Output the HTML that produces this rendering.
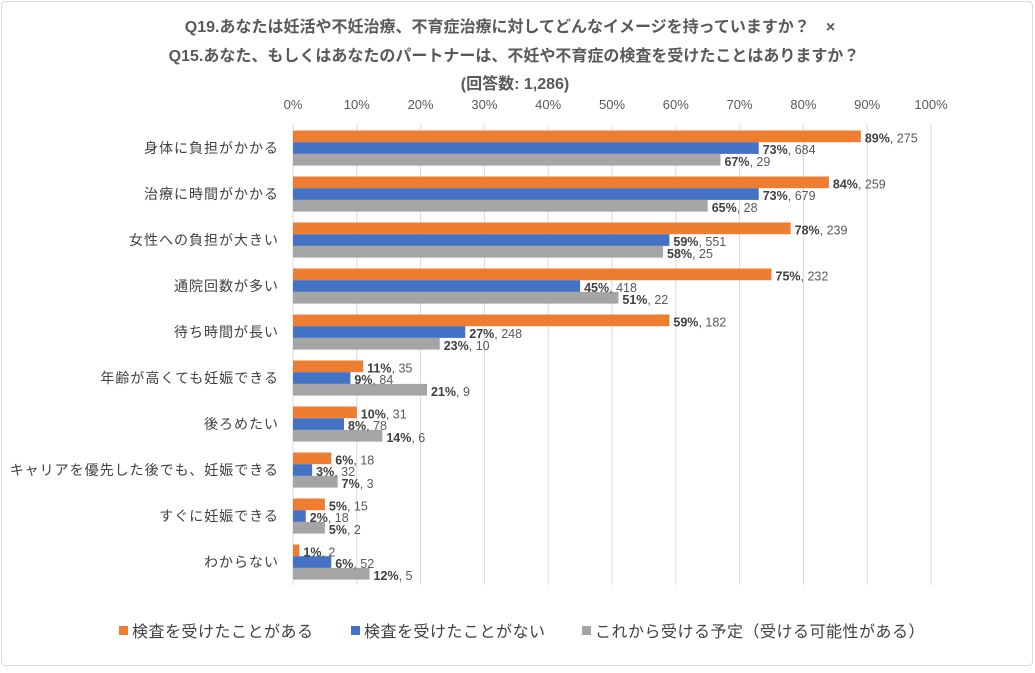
<!DOCTYPE html>
<html><head><meta charset="utf-8"><style>
body{margin:0;background:#fff;}
#c{position:relative;width:1035px;height:668px;font-family:"Liberation Sans","Noto Sans CJK JP",sans-serif;}
svg text{font-family:"Liberation Sans","Noto Sans CJK JP",sans-serif;}
</style></head><body>
<div id="c">
<svg id="s" width="1035" height="668" xmlns="http://www.w3.org/2000/svg">
<rect x="1.5" y="1.5" width="1031" height="664" rx="4" fill="#fff" stroke="#d9d9d9"/>
<g font-weight="bold" font-size="16" fill="#595959" text-anchor="middle">
<text x="510" y="32">Q19.あなたは妊活や不妊治療、不育症治療に対してどんなイメージを持っていますか？　×</text>
<text x="514" y="61">Q15.あなた、もしくはあなたのパートナーは、不妊や不育症の検査を受けたことはありますか？</text>
<text x="515" y="89">(回答数: 1,286)</text>
</g>
<g id="grid"></g><g id="bars"></g><g id="labels"></g>
<g font-size="16" fill="#404040" letter-spacing="0.5">
<rect x="119" y="626" width="9" height="9" fill="#ed7d31"/>
<text x="132" y="637">検査を受けたことがある</text>
<rect x="351" y="626" width="9" height="9" fill="#4472c4"/>
<text x="364" y="637">検査を受けたことがない</text>
<rect x="582" y="626" width="9" height="9" fill="#a5a5a5"/>
<text x="595" y="637">これから受ける予定（受ける可能性がある）</text>
</g>
</svg>
</div>
<script>
const categories=["身体に負担がかかる","治療に時間がかかる","女性への負担が大きい","通院回数が多い","待ち時間が長い","年齢が高くても妊娠できる","後ろめたい","キャリアを優先した後でも、妊娠できる","すぐに妊娠できる","わからない"];
const testedPct=[89,84,78,75,59,11,10,6,5,1];
const testedN=[275,259,239,232,182,35,31,18,15,2];
const notTestedPct=[73,73,59,45,27,9,8,3,2,6];
const notTestedN=[684,679,551,418,248,84,78,32,18,52];
const plannedPct=[67,65,58,51,23,21,14,7,5,12];
const plannedN=[29,28,25,22,10,9,6,3,2,5];
const ticks=[0,10,20,30,40,50,60,70,80,90,100];
const NS="http://www.w3.org/2000/svg";
const x0=293,x1=931,yTop=125,pitch=46,barH=11.7;
const xs=v=>x0+(x1-x0)*v/100;
function mk(tag,attrs,parent){const e=document.createElementNS(NS,tag);for(const k in attrs)e.setAttribute(k,attrs[k]);parent.appendChild(e);return e;}
const grid=document.getElementById('grid'),bars=document.getElementById('bars'),labels=document.getElementById('labels');
ticks.forEach(t=>{
 const l=mk('line',{x1:xs(t),x2:xs(t),y1:yTop,y2:yTop+pitch*categories.length,stroke:'#d9d9d9','stroke-width':1},grid);
 
 
 const tx=mk('text',{x:xs(t),y:109,'text-anchor':'middle','font-size':13,fill:'#595959'},grid);
 tx.textContent=t+'%';
 
 
});
const series=[[testedPct,testedN,'#ed7d31','tested'],[notTestedPct,notTestedN,'#4472c4','not-tested'],[plannedPct,plannedN,'#a5a5a5','planned']];
categories.forEach((c,i)=>{
 const gTop=yTop+pitch*i+5.5;
 const ct=mk('text',{x:279,y:gTop+barH*1.5+5,'text-anchor':'end','font-size':14,'letter-spacing':1,fill:'#404040'},labels);
 ct.textContent=c;
 
 
 series.forEach((s,j)=>{
  const y=gTop+barH*j;
  const r=mk('rect',{x:x0,y:y,width:xs(s[0][i])-x0,height:barH,fill:s[2]},bars);
  
  
  const t=mk('text',{x:xs(s[0][i])+4,y:y+barH/2+6,'font-size':12.5,fill:'#404040'},labels);
  
  
  const b=mk('tspan',{'font-weight':'bold'},t);b.textContent=s[0][i]+'%';
  const n=mk('tspan',{fill:'#595959'},t);n.textContent=', '+s[1][i];
 });
});
</script>
</body></html>
